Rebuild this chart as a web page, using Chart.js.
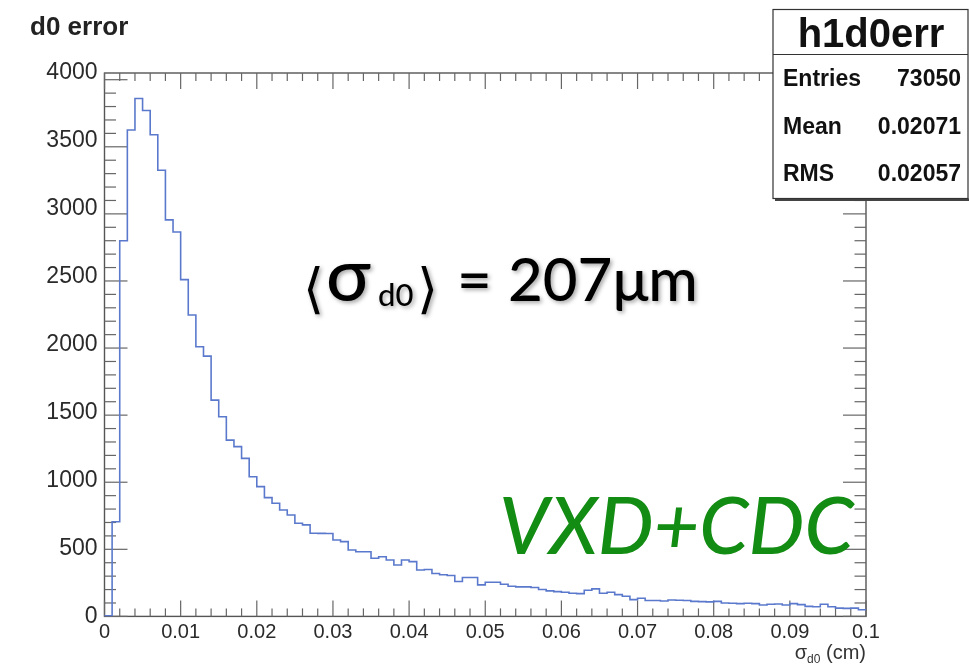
<!DOCTYPE html>
<html>
<head>
<meta charset="utf-8">
<script src="https://cdn.jsdelivr.net/npm/chart.js@4.4.0/dist/chart.umd.min.js"></script>
<style>
  html, body { margin: 0; padding: 0; background: #fff; }
</style>
</head>
<body>
<canvas id="h1d0err" width="969" height="666"></canvas>
<script>
// histogram h1d0err : 100 bins of 0.001 cm from 0 to 0.1
const binWidth = 0.001;
const counts = [
  5, 705, 2800, 3625, 3860, 3770, 3590, 3325, 2955, 2865,
  2510, 2246, 2010, 1940, 1612, 1488, 1314, 1265, 1178, 1041,
  967, 885, 843, 793, 756, 694, 682, 620, 619, 618,
  569, 557, 495, 482, 482, 433, 445, 420, 383, 420,
  408, 346, 350, 320, 310, 305, 260, 290, 290, 235,
  255, 255, 240, 225, 220, 220, 215, 200, 190, 185,
  180, 172, 170, 195, 205, 172, 180, 162, 150, 125,
  135, 118, 118, 115, 122, 120, 118, 112, 110, 108,
  112, 100, 98, 95, 98, 95, 85, 90, 92, 85,
  95, 88, 75, 72, 90, 72, 62, 60, 62, 50
];
const xTickLabels = ["0", "0.01", "0.02", "0.03", "0.04", "0.05", "0.06", "0.07", "0.08", "0.09", "0.1"];
const yTickLabels = ["0", "500", "1000", "1500", "2000", "2500", "3000", "3500", "4000"];
const statsTitle = "h1d0err";
const statsLabels = ["Entries", "Mean", "RMS"];
const statsValues = ["73050", "0.02071", "0.02057"];

const FONT = "'Liberation Sans', Arial, sans-serif";

// outline points: left edge of every bin, then the right edge of the last one
const points = [{ x: 0, y: 0 }];
counts.forEach((c, i) => points.push({ x: i * binWidth, y: c }));
points.push({ x: counts.length * binWidth, y: counts[counts.length - 1] });

function line(ctx, x1, y1, x2, y2) {
  ctx.beginPath();
  ctx.moveTo(x1, y1);
  ctx.lineTo(x2, y2);
  ctx.stroke();
}

// ROOT style frame with inward ticks on all four sides
const frameTicks = {
  id: "frameTicks",
  beforeDatasetsDraw(chart) {
    const ctx = chart.ctx;
    const { left, right, top, bottom } = chart.chartArea;
    const xs = chart.scales.x, ys = chart.scales.y;
    ctx.save();
    ctx.strokeStyle = "#555";
    ctx.lineWidth = 1.4;
    ctx.strokeRect(left, top, right - left, bottom - top);
    ctx.lineWidth = 1.2;
    ctx.strokeStyle = "#666";
    for (let k = 0; k <= 50; k++) {
      const px = xs.getPixelForValue(k * 0.002);
      const len = k % 5 === 0 ? 16 : 8;
      line(ctx, px, bottom, px, bottom - len);
      line(ctx, px, top, px, top + len);
    }
    for (let k = 0; k <= 40; k++) {
      const py = ys.getPixelForValue(k * 100);
      const len = k % 5 === 0 ? 23 : 11.5;
      line(ctx, left, py, left + len, py);
      line(ctx, right, py, right - len, py);
    }
    ctx.restore();
  },
  afterDraw(chart) {
    const ctx = chart.ctx;
    const { right } = chart.chartArea;
    ctx.save();

    // x axis title: sigma_d0 (cm), right aligned to the frame
    ctx.fillStyle = "#333";
    ctx.textBaseline = "alphabetic";
    const big = "20px " + FONT, small = "12px " + FONT;
    ctx.font = big;
    const wS = ctx.measureText("\u03c3").width;
    const wU = ctx.measureText(" (cm)").width;
    ctx.font = small;
    const wD = ctx.measureText("d0").width;
    let x = right - (wS + wD + wU);
    ctx.font = big;
    ctx.fillText("\u03c3", x, 659);
    ctx.font = small;
    ctx.fillText("d0", x + wS, 663);
    ctx.font = big;
    ctx.fillText(" (cm)", x + wS + wD, 659);

    // statistics box
    const bx = 773, by = 9.5, bw = 195, bh = 189;
    ctx.fillStyle = "#444";
    ctx.fillRect(bx + 2, by + bh, bw, 2.5);
    ctx.fillStyle = "#fff";
    ctx.fillRect(bx, by, bw, bh);
    ctx.strokeStyle = "#333";
    ctx.lineWidth = 1.2;
    ctx.strokeRect(bx, by, bw, bh);
    line(ctx, bx, 54.5, bx + bw, 54.5);
    ctx.fillStyle = "#111";
    ctx.textBaseline = "middle";
    ctx.textAlign = "center";
    ctx.font = "bold 40px " + FONT;
    ctx.fillText(statsTitle, 871, 36);
    ctx.font = "bold 23px " + FONT;
    const rowY = [80, 128, 175];
    statsLabels.forEach((lab, i) => {
      ctx.textAlign = "left";
      ctx.fillText(lab, 783, rowY[i]);
      ctx.textAlign = "right";
      ctx.fillText(statsValues[i], 961, rowY[i]);
    });

    // annotations
    ctx.textAlign = "left";
    ctx.textBaseline = "alphabetic";
    ctx.shadowColor = "rgba(0,0,0,0.35)";
    ctx.shadowBlur = 4;
    ctx.shadowOffsetX = 2;
    ctx.shadowOffsetY = 2;
    ctx.fillStyle = "#000";
    const ann = "Lato, 'Open Sans', 'DejaVu Sans', sans-serif";
    ctx.font = "54px 'DejaVu Sans', sans-serif";
    ctx.fillText("\u27e8", 303, 307);
    ctx.font = "500 74px " + ann;
    ctx.fillText("\u03c3", 326, 301);
    ctx.font = "500 31px " + ann;
    ctx.fillText("d0", 378, 306);
    ctx.font = "54px 'DejaVu Sans', sans-serif";
    ctx.fillText("\u27e9", 417, 307);
    ctx.font = "500 60px " + ann;
    ctx.fillText("=", 457, 301);
    ctx.fillText("207\u03bcm", 508, 301);

    ctx.shadowColor = "rgba(0,0,0,0)";
    ctx.fillStyle = "#128c12";
    ctx.font = "italic 500 79px " + ann;
    ctx.fillText("VXD+CDC", 499, 554);
    ctx.restore();
  }
};

new Chart(document.getElementById("h1d0err"), {
  type: "line",
  data: {
    datasets: [{
      data: points,
      stepped: "before",
      borderColor: "#5b79cc",
      borderWidth: 1.6,
      pointRadius: 0,
      fill: false
    }]
  },
  options: {
    responsive: false,
    animation: false,
    layout: { padding: { left: 30, right: 103, top: 0, bottom: 0 } },
    plugins: {
      legend: { display: false },
      tooltip: { enabled: false },
      title: {
        display: true,
        text: "d0 error",
        align: "start",
        color: "#222",
        font: { family: FONT, size: 26, weight: "bold" },
        padding: { top: 12.4, bottom: 29.4 }
      }
    },
    scales: {
      x: {
        type: "linear",
        min: 0,
        max: 0.1,
        grid: { display: false, drawTicks: false },
        border: { display: false },
        ticks: {
          stepSize: 0.01,
          includeBounds: false,
          autoSkip: false,
          maxRotation: 0,
          padding: 4,
          color: "#2a2a2a",
          font: { family: FONT, size: 20 },
          callback: (v, i) => xTickLabels[i]
        },
        afterFit: s => { s.height = 49.6; }
      },
      y: {
        type: "linear",
        min: 0,
        max: 4050,
        grid: { display: false, drawTicks: false },
        border: { display: false },
        ticks: {
          stepSize: 500,
          includeBounds: false,
          padding: 7,
          color: "#2a2a2a",
          font: { family: FONT, size: 23 },
          callback: (v, i) => yTickLabels[i]
        },
        afterFit: s => { s.width = 74.5; }
      }
    }
  },
  plugins: [frameTicks]
});
</script>
</body>
</html>
